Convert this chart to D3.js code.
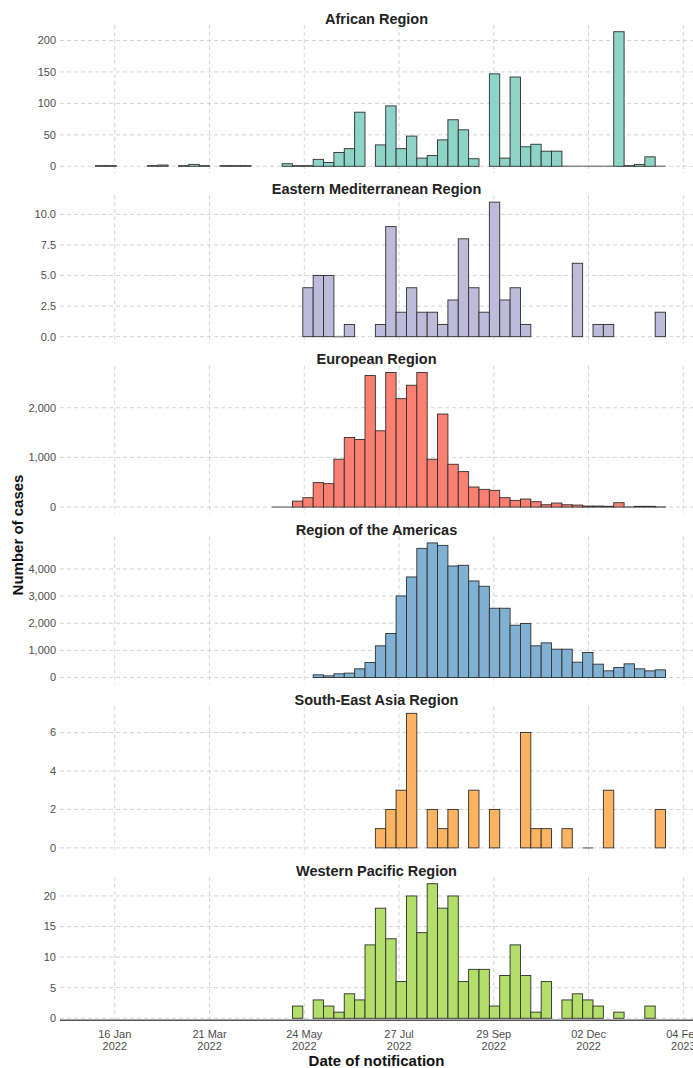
<!DOCTYPE html>
<html>
<head>
<meta charset="utf-8">
<script src="https://cdn.jsdelivr.net/npm/d3@7"></script>
<style>
  body { margin: 0; background: #fff; }
  svg { display: block; font-family: "Liberation Sans", Arial, sans-serif; }
</style>
</head>
<body>
<svg id="chart" width="693" height="1068"></svg>
<script>
// weekly bins (Monday starts), Jan 2022 - Jan 2023
const weeks = [
  "2022-01-03","2022-01-10","2022-01-17","2022-01-24","2022-01-31",
  "2022-02-07","2022-02-14","2022-02-21","2022-02-28",
  "2022-03-07","2022-03-14","2022-03-21","2022-03-28",
  "2022-04-04","2022-04-11","2022-04-18","2022-04-25",
  "2022-05-02","2022-05-09","2022-05-16","2022-05-23","2022-05-30",
  "2022-06-06","2022-06-13","2022-06-20","2022-06-27",
  "2022-07-04","2022-07-11","2022-07-18","2022-07-25",
  "2022-08-01","2022-08-08","2022-08-15","2022-08-22","2022-08-29",
  "2022-09-05","2022-09-12","2022-09-19","2022-09-26",
  "2022-10-03","2022-10-10","2022-10-17","2022-10-24","2022-10-31",
  "2022-11-07","2022-11-14","2022-11-21","2022-11-28",
  "2022-12-05","2022-12-12","2022-12-19","2022-12-26",
  "2023-01-02","2023-01-09","2023-01-16"
];

const regionNames = ["African Region", "Eastern Mediterranean Region", "European Region",
  "Region of the Americas", "South-East Asia Region", "Western Pacific Region"];
const regionColors = ["#8dd3c7", "#bebada", "#fb8072", "#80b1d3", "#fdb462", "#b3de69"];

// null = no bar, 0 = empty bin drawn flat
const afrCases = [
  1, 1, null, null, null, 1, 2, null, 1, 3,
  1, null, 1, 1, 1, null, null, null, 4, 1,
  1, 11, 6, 22, 28, 86, null, 34, 96, 28,
  48, 13, 17, 42, 74, 58, 12, null, 147, 13,
  142, 31, 35, 24, 24, 0, 0, 0, 0, 0,
  214, 1, 3, 15, 0
];
const emrCases = [
  null, null, null, null, null, null, null, null, null, null,
  null, null, null, null, null, null, null, null, null, null,
  4, 5, 5, 0, 1, null, null, 1, 9, 2,
  4, 2, 2, 1, 3, 8, 4, 2, 11, 3,
  4, 1, null, null, null, null, 6, null, 1, 1,
  null, null, null, null, 2
];
const eurCases = [
  null, null, null, null, null, null, null, null, null, null,
  null, null, null, null, null, null, null, 0, 0, 120,
  189, 492, 472, 964, 1402, 1361, 2648, 1536, 2709, 2183,
  2453, 2709, 964, 1873, 862, 714, 404, 357, 337, 189,
  135, 162, 108, 47, 81, 47, 40, 20, 20, 15,
  88, 3, 15, 15, 3
];
const amrCases = [
  null, null, null, null, null, null, null, null, null, null,
  null, null, null, null, null, null, null, null, null, null,
  null, 98, 61, 135, 160, 319, 552, 1166, 1620, 3006,
  3705, 4760, 4960, 4870, 4110, 4135, 3558, 3362, 2552, 2552,
  1926, 1988, 1166, 1276, 1043, 1043, 564, 920, 491, 245,
  368, 503, 319, 245, 282
];
const searCases = [
  null, null, null, null, null, null, null, null, null, null,
  null, null, null, null, null, null, null, null, null, null,
  null, null, null, null, null, null, null, 1, 2, 3,
  7, null, 2, 1, 2, null, 3, null, 2, null,
  null, 6, 1, 1, null, 1, null, 0, null, 3,
  null, null, null, null, 2
];
const wprCases = [
  null, null, null, null, null, null, null, null, null, null,
  null, null, null, null, null, null, null, null, null, 2,
  null, 3, 2, 1, 4, 3, 12, 18, 13, 6,
  20, 14, 22, 18, 20, 6, 8, 8, 2, 7,
  12, 7, 1, 6, null, 3, 4, 3, 2, null,
  1, null, null, 2, null
];

const afrTicks = [0, 50, 100, 150, 200];
const emrTicks = [0, 2.5, 5, 7.5, 10];
const eurTicks = [0, 1000, 2000];
const amrTicks = [0, 1000, 2000, 3000, 4000];
const searTicks = [0, 2, 4, 6];
const wprTicks = [0, 5, 10, 15, 20];

const xTickDates = ["2022-01-16", "2022-03-21", "2022-05-24", "2022-07-27", "2022-09-29", "2022-12-02", "2023-02-04"];

const panels = [
  { values: afrCases, ticks: afrTicks, fmt: d3.format(",") },
  { values: emrCases, ticks: emrTicks, fmt: d3.format(".1f") },
  { values: eurCases, ticks: eurTicks, fmt: d3.format(",") },
  { values: amrCases, ticks: amrTicks, fmt: d3.format(",") },
  { values: searCases, ticks: searTicks, fmt: d3.format(",") },
  { values: wprCases, ticks: wprTicks, fmt: d3.format(",") }
];

const W = 693, left = 60;
const parse = d3.timeParse("%Y-%m-%d");
const weekDates = weeks.map(parse);
const tickDates = xTickDates.map(parse);

const x = d3.scaleTime()
  .domain([parse("2021-12-10"), parse("2023-02-15")])
  .range([left, 699.6]);

const svg = d3.select("#chart");
const gridColor = "#cfcfcf";

panels.forEach((p, i) => {
  const top = 25 + 170.4 * i;
  const bottom = top + 148;
  const maxV = d3.max(p.values);
  const y = d3.scaleLinear()
    .domain([-0.05 * maxV, 1.05 * maxV])
    .range([bottom, top]);

  const g = svg.append("g");

  // grid
  g.selectAll(".hgrid").data(p.ticks).enter().append("line")
    .attr("x1", left).attr("x2", W)
    .attr("y1", d => y(d)).attr("y2", d => y(d))
    .attr("stroke", gridColor).attr("stroke-width", 0.9)
    .attr("stroke-dasharray", "4,3");

  g.selectAll(".vgrid").data(tickDates).enter().append("line")
    .attr("x1", d => x(d)).attr("x2", d => x(d))
    .attr("y1", top).attr("y2", bottom)
    .attr("stroke", gridColor).attr("stroke-width", 0.9)
    .attr("stroke-dasharray", "4,3");

  // y tick labels
  g.selectAll(".ylab").data(p.ticks).enter().append("text")
    .attr("x", 56).attr("y", d => y(d)).attr("dy", "0.35em")
    .attr("text-anchor", "end")
    .attr("font-size", 11).attr("fill", "#4d4d4d")
    .text(d => p.fmt(d));

  const bins = weekDates.map((d, k) => ({ date: d, value: p.values[k] }))
    .filter(b => b.value != null);

  // empty bins as flat segment
  g.selectAll(".zero").data(bins.filter(b => b.value === 0)).enter().append("line")
    .attr("x1", d => x(d.date))
    .attr("x2", d => x(d3.timeDay.offset(d.date, 7)))
    .attr("y1", y(0)).attr("y2", y(0))
    .attr("stroke", "#8a8a8a").attr("stroke-width", 1.6);

  g.selectAll(".bar").data(bins.filter(b => b.value > 0)).enter().append("rect")
    .attr("x", d => x(d.date))
    .attr("y", d => y(d.value))
    .attr("width", d => x(d3.timeDay.offset(d.date, 7)) - x(d.date))
    .attr("height", d => y(0) - y(d.value))
    .attr("fill", regionColors[i])
    .attr("stroke", "#2f2f2f").attr("stroke-width", 0.9);

  // strip title
  g.append("text")
    .attr("x", (left + W) / 2).attr("y", top - 1.5)
    .attr("text-anchor", "middle")
    .attr("font-size", 14.5).attr("font-weight", "bold").attr("fill", "#222")
    .text(regionNames[i]);

  if (i === panels.length - 1) {
    g.append("line")
      .attr("x1", left).attr("x2", W)
      .attr("y1", y(0) + 2).attr("y2", y(0) + 2)
      .attr("stroke", "#555").attr("stroke-width", 1.5);

    const fmtDay = d3.timeFormat("%d %b"), fmtYear = d3.timeFormat("%Y");
    const lab = g.selectAll(".xlab").data(tickDates).enter().append("text")
      .attr("text-anchor", "middle")
      .attr("font-size", 11).attr("fill", "#4d4d4d");
    lab.append("tspan").attr("x", d => x(d)).attr("y", bottom + 13).text(d => fmtDay(d));
    lab.append("tspan").attr("x", d => x(d)).attr("y", bottom + 25).text(d => fmtYear(d));
  }
});

// axis titles
svg.append("text")
  .attr("x", (left + W) / 2).attr("y", 1066)
  .attr("text-anchor", "middle")
  .attr("font-size", 15).attr("font-weight", "bold").attr("fill", "#111")
  .text("Date of notification");

svg.append("text")
  .attr("transform", "translate(23,535) rotate(-90)")
  .attr("text-anchor", "middle")
  .attr("font-size", 15).attr("font-weight", "bold").attr("fill", "#111")
  .text("Number of cases");
</script>
</body>
</html>
